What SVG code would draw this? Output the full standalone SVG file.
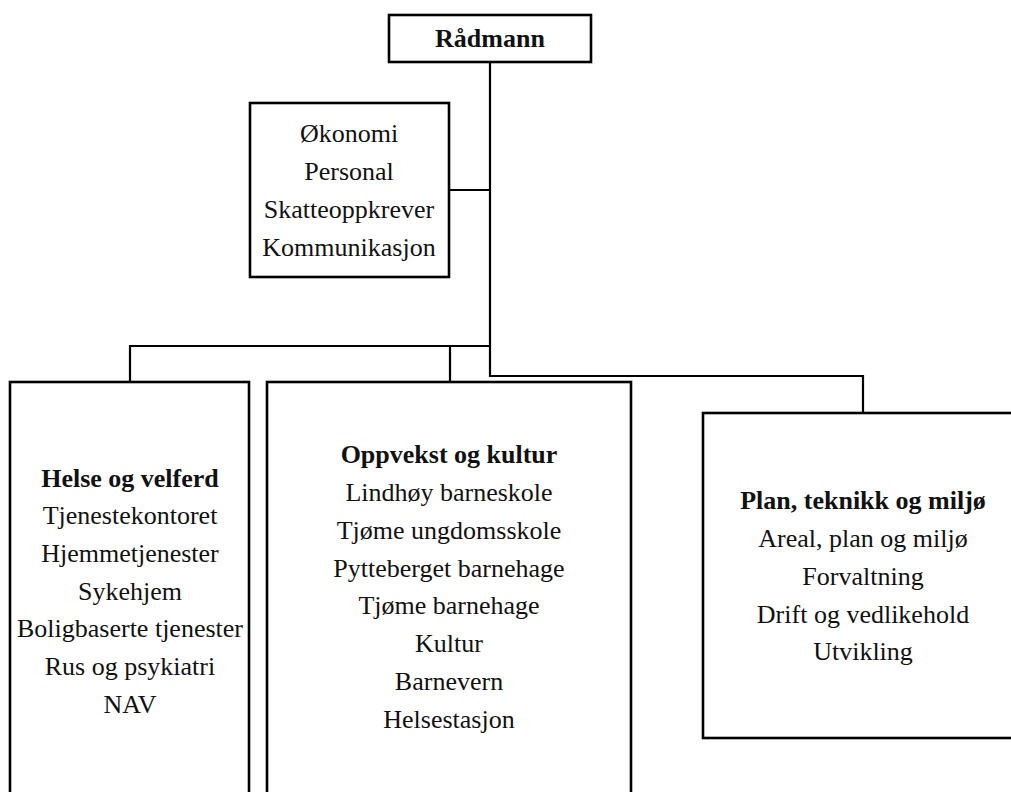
<svg xmlns="http://www.w3.org/2000/svg" width="1011" height="792" viewBox="0 0 1011 792">
<style>
.box{fill:#fff;stroke:#000;stroke-width:2.6}
.con{fill:none;stroke:#000;stroke-width:2.2}
text{font-family:"Liberation Serif","Times New Roman",serif;font-size:26px;fill:#111;text-anchor:middle}
.b{font-weight:bold}
</style>
<rect width="1011" height="792" fill="#fff"/>
<g id="connectors">
<path class="con" d="M490,62 V376 H863 V413"/>
<path class="con" d="M449,190 H490"/>
<path class="con" d="M490,346 H130 V382"/>
<path class="con" d="M450,346 V382"/>
</g>
<g id="radmann">
<rect class="box" x="389" y="15" width="202" height="47"/>
<text class="b" x="490" y="47">Rådmann</text>
</g>
<g id="stab">
<rect class="box" x="250" y="103" width="199" height="174"/>
<text x="349" y="142">Økonomi</text>
<text x="349" y="180">Personal</text>
<text x="349" y="218">Skatteoppkrever</text>
<text x="349" y="256">Kommunikasjon</text>
</g>
<g id="helse">
<rect class="box" x="10" y="382" width="239" height="420"/>
<text class="b" x="130" y="487">Helse og velferd</text>
<text x="130" y="524">Tjenestekontoret</text>
<text x="130" y="562">Hjemmetjenester</text>
<text x="130" y="600">Sykehjem</text>
<text x="130" y="637">Boligbaserte tjenester</text>
<text x="130" y="675">Rus og psykiatri</text>
<text x="130" y="713">NAV</text>
</g>
<g id="oppvekst">
<rect class="box" x="267" y="382" width="364" height="420"/>
<text class="b" x="449" y="463">Oppvekst og kultur</text>
<text x="449" y="501">Lindhøy barneskole</text>
<text x="449" y="539">Tjøme ungdomsskole</text>
<text x="449" y="577">Pytteberget barnehage</text>
<text x="449" y="614">Tjøme barnehage</text>
<text x="449" y="652">Kultur</text>
<text x="449" y="690">Barnevern</text>
<text x="449" y="728">Helsestasjon</text>
</g>
<g id="plan">
<rect class="box" x="703" y="413" width="320" height="325"/>
<text class="b" x="863" y="509">Plan, teknikk og miljø</text>
<text x="863" y="547">Areal, plan og miljø</text>
<text x="863" y="585">Forvaltning</text>
<text x="863" y="623">Drift og vedlikehold</text>
<text x="863" y="660">Utvikling</text>
</g>
</svg>
